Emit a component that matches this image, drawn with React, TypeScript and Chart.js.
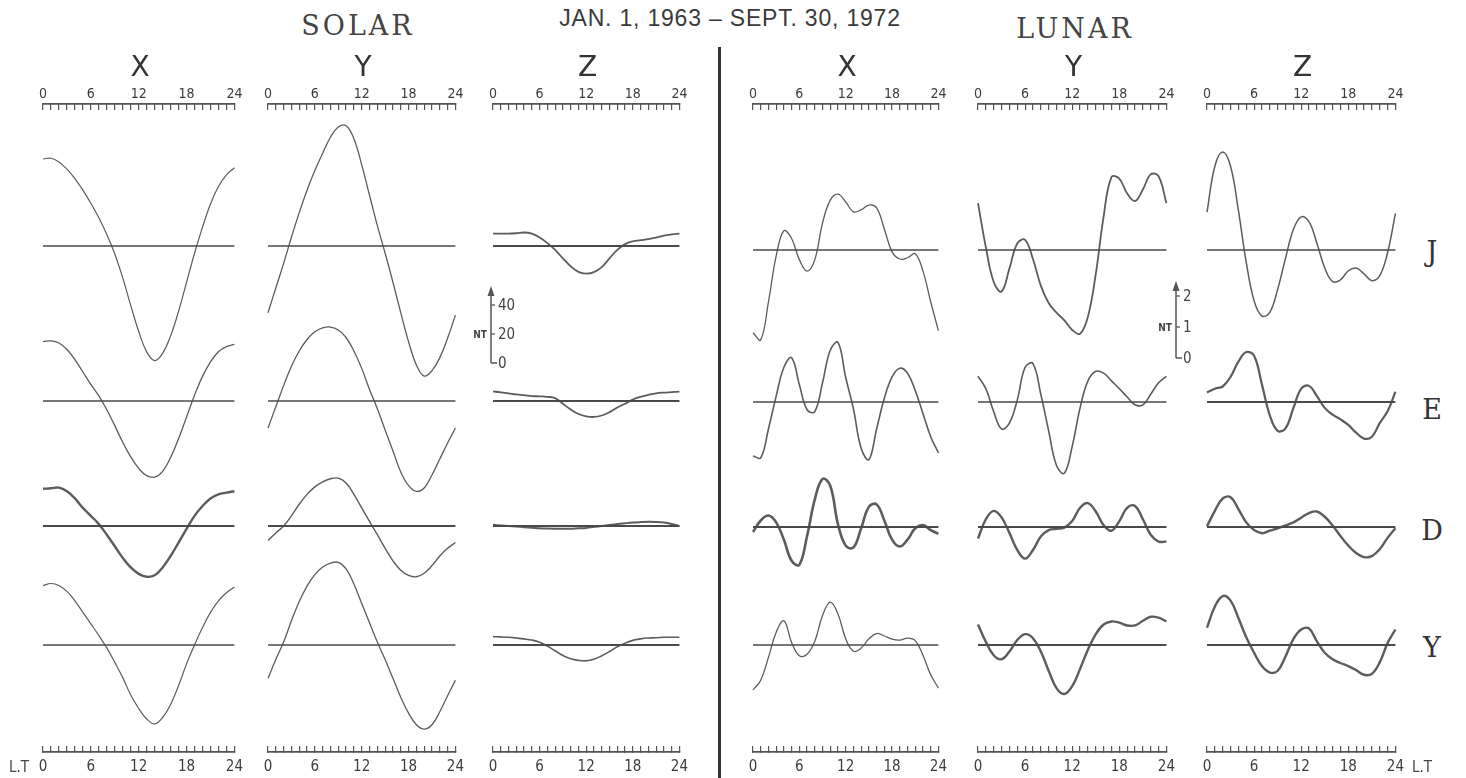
import React, { useEffect, useRef } from 'react';
import { Chart, registerables } from 'chart.js';

Chart.register(...registerables);

// ---------------- data (local time hours, values in nT) ----------------
const HOURS = [0, 1, 2, 3, 4, 5, 6, 7, 8, 9, 10, 11, 12, 13, 14, 15, 16, 17, 18, 19, 20, 21, 22, 23, 24];
const MAJOR_TICKS = [0, 6, 12, 18, 24];
const ROW_NAMES = ['J', 'E', 'D', 'Y'];
const COMPONENT_NAMES = ['X', 'Y', 'Z'];
const SOLAR_SCALE_TICKS = [0, 20, 40];
const LUNAR_SCALE_TICKS = [0, 1, 2];

// Solar daily variation (nT)
const SOLAR_X_J = [60, 60.5, 58, 53, 46.5, 38.5, 29.5, 19.5, 8, -5.5, -22, -41, -59, -73, -79, -74, -62, -45, -25, -5, 13, 29, 41, 49, 54];
const SOLAR_X_E = [41, 41.4, 40, 35.5, 28.5, 20, 11.5, 3.5, -6, -17, -28.5, -38.5, -46.5, -51.5, -52.5, -48.5, -39, -26, -11, 4, 17, 27, 34, 37.5, 39];
const SOLAR_X_D = [25.7, 26, 26.5, 24, 19, 12.5, 7, 1.3, -6, -14, -22, -28.6, -33, -35, -34, -28.6, -20.7, -11.4, -2, 7, 13.8, 19, 21.8, 23, 24];
const SOLAR_X_Y = [41, 42.4, 41, 37, 30.5, 22.5, 14.6, 6.6, -2, -12, -22.5, -34.5, -43.8, -51, -54.4, -50, -41, -28, -13, 0, 12, 22.5, 30.5, 36, 40];

const SOLAR_Y_J = [-46, -29, -12, 6, 23, 38.5, 52, 64, 75, 82, 83, 74, 56, 35, 14, -5, -25, -46, -66, -82, -89.7, -86, -77, -63.5, -47.7];
const SOLAR_Y_E = [-18.6, -4, 10.6, 24, 34.5, 42.4, 47.7, 50.4, 51, 49, 43.8, 34.5, 22.5, 8, -5.3, -20, -34.5, -49, -58.4, -62.3, -60, -51, -40, -29, -18.6];
const SOLAR_Y_D = [-10, -4.8, 0, 7, 15, 21.8, 27, 30.5, 32.6, 33, 29.7, 21.8, 12.5, 3.2, -6, -15.4, -24, -30.5, -34, -35, -32.6, -27.3, -20.7, -15.4, -11.4];
const SOLAR_Y_Y = [-23, -10, 2, 16.7, 30, 40.6, 48.5, 53.8, 56.5, 57, 52.5, 42, 28.6, 15.4, 2, -10, -23, -36, -47, -55, -58, -55, -46, -35, -24.4];

const SOLAR_Z_J = [8.5, 8.5, 8.5, 8.8, 9.3, 8.5, 5.8, 2, -2.7, -8.5, -14, -17.8, -19, -18, -14.6, -8.5, -2.7, 1.3, 3.2, 4, 4.8, 5.8, 7.2, 8, 8.5];
const SOLAR_Z_E = [6.6, 6, 5.3, 4.5, 4, 3.4, 3.2, 2.9, 2, -1.9, -5.8, -9, -10.6, -11, -10, -7.7, -4.5, -1.9, 1, 2.9, 4.2, 5.3, 5.8, 6.1, 6.4];
const SOLAR_Z_D = [0.8, 0.4, 0, -0.4, -0.8, -1.2, -1.6, -1.8, -1.9, -1.9, -1.9, -1.6, -1.3, -0.6, 0, 0.7, 1.3, 1.9, 2.4, 2.7, 2.9, 2.8, 2.4, 1.4, 0];
const SOLAR_Z_Y = [5.8, 5.6, 5.3, 4.8, 4.2, 3.4, 1.9, -0.8, -4, -7.2, -9.5, -10.6, -10.9, -9.8, -7.4, -4.5, -1.3, 1.3, 3.2, 4.2, 4.8, 5, 5.3, 5.3, 5.3];

// Lunar daily variation (nT)
const LUNAR_X_J = [-2.67, -2.9, -1.67, -0.19, 0.62, 0.37, -0.31, -0.68, -0.31, 0.87, 1.61, 1.8, 1.55, 1.23, 1.3, 1.45, 1.36, 0.68, -0.06, -0.29, -0.25, -0.12, -0.68, -1.67, -2.6];
const LUNAR_X_E = [-1.74, -1.8, -0.87, 0.19, 1.12, 1.43, 0.56, -0.25, -0.31, 0.62, 1.67, 1.92, 0.79, -0.22, -1.49, -1.86, -0.87, 0.12, 0.81, 1.09, 0.93, 0.37, -0.37, -1.12, -1.64];
const LUNAR_X_D = [-0.16, 0.21, 0.37, 0.15, -0.41, -1.09, -1.22, -0.29, 0.89, 1.55, 1.33, 0.09, -0.6, -0.66, -0.04, 0.65, 0.73, 0.21, -0.41, -0.63, -0.41, -0.04, 0.06, -0.1, -0.22];
const LUNAR_X_Y = [-1.45, -1.14, -0.4, 0.41, 0.78, 0.08, -0.35, -0.3, 0.12, 0.95, 1.38, 1.0, 0.2, -0.2, -0.1, 0.2, 0.37, 0.29, 0.19, 0.16, 0.22, 0.14, -0.33, -0.96, -1.39];

const LUNAR_Y_J = [1.51, 0.09, -1.03, -1.34, -0.6, 0.21, 0.33, -0.29, -1.15, -1.71, -2.02, -2.27, -2.58, -2.7, -2.15, -0.78, 1.08, 2.35, 2.3, 1.82, 1.58, 1.95, 2.44, 2.38, 1.51];
const LUNAR_Y_E = [0.83, 0.43, -0.31, -0.87, -0.68, 0.06, 1.12, 1.24, 0.25, -0.93, -2.05, -2.3, -1.43, -0.19, 0.68, 0.99, 0.93, 0.68, 0.43, 0.16, -0.09, -0.09, 0.25, 0.62, 0.83];
const LUNAR_Y_D = [-0.37, 0.25, 0.52, 0.31, -0.19, -0.74, -1.02, -0.74, -0.31, -0.1, -0.06, -0.02, 0.19, 0.62, 0.77, 0.5, 0.06, -0.12, 0.19, 0.62, 0.68, 0.25, -0.25, -0.47, -0.47];
const LUNAR_Y_Y = [0.66, 0.1, -0.33, -0.46, -0.21, 0.16, 0.35, 0.22, -0.21, -0.83, -1.39, -1.58, -1.33, -0.77, -0.15, 0.35, 0.66, 0.76, 0.72, 0.63, 0.63, 0.78, 0.91, 0.88, 0.76];

const LUNAR_Z_J = [1.22, 2.7, 3.16, 2.7, 1.28, -0.4, -1.64, -2.13, -2.01, -1.27, -0.27, 0.66, 1.07, 0.91, 0.22, -0.58, -1.02, -0.96, -0.67, -0.58, -0.77, -0.99, -0.83, -0.09, 1.18];
const LUNAR_Z_E = [0.31, 0.43, 0.5, 0.81, 1.3, 1.61, 1.49, 0.56, -0.43, -0.93, -0.85, -0.2, 0.43, 0.52, 0.19, -0.19, -0.41, -0.56, -0.74, -0.99, -1.18, -1.12, -0.68, -0.3, 0.33];
const LUNAR_Z_D = [0.02, 0.52, 0.92, 0.96, 0.58, 0.15, -0.1, -0.2, -0.12, -0.04, 0.05, 0.15, 0.3, 0.45, 0.5, 0.33, 0.05, -0.29, -0.6, -0.84, -0.97, -0.94, -0.72, -0.35, -0.04];
const LUNAR_Z_Y = [0.56, 1.24, 1.58, 1.43, 0.87, 0.25, -0.25, -0.68, -0.89, -0.83, -0.37, 0.19, 0.5, 0.53, 0.12, -0.25, -0.46, -0.58, -0.68, -0.81, -0.96, -0.93, -0.56, 0.06, 0.5];

// ---------------- layout & style ----------------
const FRAME_W = 1466;
const FRAME_H = 778;
const CANVAS_TOP = 78;
const CANVAS_H = 700;
const AXIS_H = 26;
const PAD_X = 18;
const AREA_TOP = CANVAS_TOP + AXIS_H;
const AREA_BOTTOM = CANVAS_TOP + CANVAS_H - AXIS_H;

const INK = '#4a4a4a';
const CURVE = '#5c5c5c';
const TICK_FONT = "'DejaVu Sans Condensed', 'Liberation Sans Narrow', 'Liberation Sans', sans-serif";
const SANS = "'Liberation Sans', 'DejaVu Sans', sans-serif";

const SOLAR_PPU = 1.45; // px per nT
const LUNAR_PPU = 31; // px per nT
const SOLAR_ZEROS = [246, 401, 526, 645];
const LUNAR_ZEROS = [250, 402, 527, 645];

type Column = {
  name: string;
  left: number;
  right: number;
  series: number[][];
  ppu: number;
  zeros: number[];
  widths: number[];
  zeroWidths: number[];
};

const COLUMNS: Column[] = [
  { name: COMPONENT_NAMES[0], left: 43, right: 237, series: [SOLAR_X_J, SOLAR_X_E, SOLAR_X_D, SOLAR_X_Y], ppu: SOLAR_PPU, zeros: SOLAR_ZEROS, widths: [1.2, 1.3, 2.4, 1.2], zeroWidths: [1.6, 1.6, 2.2, 1.6] },
  { name: COMPONENT_NAMES[1], left: 268, right: 458, series: [SOLAR_Y_J, SOLAR_Y_E, SOLAR_Y_D, SOLAR_Y_Y], ppu: SOLAR_PPU, zeros: SOLAR_ZEROS, widths: [1.3, 1.3, 1.4, 1.3], zeroWidths: [1.6, 1.6, 1.8, 1.6] },
  { name: COMPONENT_NAMES[2], left: 493, right: 682, series: [SOLAR_Z_J, SOLAR_Z_E, SOLAR_Z_D, SOLAR_Z_Y], ppu: SOLAR_PPU, zeros: SOLAR_ZEROS, widths: [1.8, 1.8, 2, 1.6], zeroWidths: [1.8, 1.8, 2, 1.8] },
  { name: COMPONENT_NAMES[0], left: 753, right: 941, series: [LUNAR_X_J, LUNAR_X_E, LUNAR_X_D, LUNAR_X_Y], ppu: LUNAR_PPU, zeros: LUNAR_ZEROS, widths: [1.3, 1.6, 2.6, 1.3], zeroWidths: [1.6, 1.6, 2.2, 1.6] },
  { name: COMPONENT_NAMES[1], left: 978, right: 1169, series: [LUNAR_Y_J, LUNAR_Y_E, LUNAR_Y_D, LUNAR_Y_Y], ppu: LUNAR_PPU, zeros: LUNAR_ZEROS, widths: [1.8, 1.6, 2.4, 2.4], zeroWidths: [1.6, 1.6, 2.2, 2] },
  { name: COMPONENT_NAMES[2], left: 1207, right: 1398, series: [LUNAR_Z_J, LUNAR_Z_E, LUNAR_Z_D, LUNAR_Z_Y], ppu: LUNAR_PPU, zeros: LUNAR_ZEROS, widths: [1.5, 2.2, 2.4, 2.4], zeroWidths: [1.6, 2, 2.2, 2] },
];

function rulerAxis(position: 'top' | 'bottom', padding: number, size: number) {
  return {
    type: 'linear',
    position,
    min: 0,
    max: 24,
    afterFit: (s: any) => {
      s.height = AXIS_H;
    },
    ticks: {
      stepSize: 1,
      autoSkip: false,
      maxTicksLimit: 100,
      maxRotation: 0,
      minRotation: 0,
      padding,
      color: '#3c3c3c',
      font: { family: TICK_FONT, size },
      callback: (v: any) => (MAJOR_TICKS.includes(Number(v)) ? String(v) : ''),
    },
    grid: {
      display: true,
      drawOnChartArea: false,
      drawTicks: true,
      tickLength: -6,
      color: '#555',
      lineWidth: 1.2,
    },
    border: { display: true, color: '#555', width: 1.8 },
  };
}

function Panel({ col }: { col: Column }) {
  const ref = useRef<HTMLCanvasElement | null>(null);
  useEffect(() => {
    const canvas = ref.current;
    if (!canvas) return;
    const datasets: any[] = [];
    const scales: any = {
      x: rulerAxis('top', 7, 14),
      xb: rulerAxis('bottom', 12, 15),
    };
    col.series.forEach((vals, r) => {
      const id = 'y' + r;
      const zero = col.zeros[r];
      scales[id] = {
        type: 'linear',
        display: false,
        min: -(AREA_BOTTOM - zero) / col.ppu,
        max: (zero - AREA_TOP) / col.ppu,
      };
      datasets.push({
        label: ROW_NAMES[r] + ' baseline',
        data: [
          { x: HOURS[0], y: 0 },
          { x: HOURS[HOURS.length - 1], y: 0 },
        ],
        xAxisID: 'x',
        yAxisID: id,
        borderColor: INK,
        borderWidth: col.zeroWidths[r],
        pointRadius: 0,
        tension: 0,
        fill: false,
        clip: false,
      });
      datasets.push({
        label: ROW_NAMES[r],
        data: HOURS.map((h, i) => ({ x: h, y: vals[i] })),
        xAxisID: 'x',
        yAxisID: id,
        borderColor: CURVE,
        borderWidth: col.widths[r],
        pointRadius: 0,
        tension: 0.4,
        fill: false,
        clip: false,
      });
    });
    const chart = new Chart(canvas, {
      type: 'line',
      data: { datasets },
      options: {
        animation: false,
        responsive: false,
        devicePixelRatio: 1,
        events: [],
        layout: { padding: { left: PAD_X, right: PAD_X, top: 0, bottom: 0 } },
        plugins: { legend: { display: false }, tooltip: { enabled: false }, title: { display: false } },
        scales,
      } as any,
    });
    return () => chart.destroy();
  }, [col]);
  const w = col.right - col.left + 2 * PAD_X;
  return (
    <canvas
      ref={ref}
      width={w}
      height={CANVAS_H}
      style={{ position: 'absolute', left: col.left - PAD_X, top: CANVAS_TOP, width: w, height: CANVAS_H }}
    />
  );
}

const abs = (x: number, y: number, extra: React.CSSProperties = {}): React.CSSProperties => ({
  position: 'absolute',
  left: x,
  top: y,
  transform: 'translate(-50%, -50%)',
  whiteSpace: 'nowrap',
  lineHeight: 1,
  color: INK,
  ...extra,
});

function ScaleBar({ x, zero, ppu, ticks, arrowTop }: { x: number; zero: number; ppu: number; ticks: number[]; arrowTop: number }) {
  const top = zero - ticks[ticks.length - 1] * ppu;
  return (
    <g>
      <line x1={x} y1={zero} x2={x} y2={arrowTop + 8} stroke="#555" strokeWidth={1.5} />
      <polygon points={`${x},${arrowTop} ${x - 3.5},${arrowTop + 10} ${x + 3.5},${arrowTop + 10}`} fill="#555" />
      <line x1={x} y1={zero} x2={x + 6} y2={zero} stroke="#555" strokeWidth={1.5} />
      {ticks.slice(1).map((t) => (
        <line key={t} x1={x} y1={zero - t * ppu} x2={x + 4} y2={zero - t * ppu} stroke="#555" strokeWidth={1.3} />
      ))}
      {ticks.map((t) => (
        <text
          key={'l' + t}
          x={x + 7}
          y={zero - t * ppu}
          dominantBaseline="central"
          fontFamily={TICK_FONT}
          fontSize={15}
          fill="#444"
        >
          {String(t)}
        </text>
      ))}
      <text
        x={x - 4}
        y={(zero + top) / 2}
        textAnchor="end"
        dominantBaseline="central"
        fontFamily={TICK_FONT}
        fontSize={10}
        fontWeight="bold"
        fill="#444"
      >
        NT
      </text>
    </g>
  );
}

export default function App() {
  const rowLabelY = [251, 409, 530, 647];
  return (
    <div style={{ position: 'fixed', left: 0, top: 0, width: FRAME_W, height: FRAME_H, background: '#fff', overflow: 'hidden' }}>
      {COLUMNS.map((c, i) => (
        <Panel key={i} col={c} />
      ))}
      {COLUMNS.map((c, i) => (
        <div key={'h' + i} style={abs((c.left + c.right) / 2, 67, { fontFamily: "'DejaVu Sans', sans-serif", fontSize: 28, color: '#333' })}>
          {c.name}
        </div>
      ))}
      <div style={abs(358, 25, { fontFamily: "'DejaVu Serif', serif", fontSize: 27, letterSpacing: 3, color: '#444' })}>SOLAR</div>
      <div style={abs(1075, 28, { fontFamily: "'DejaVu Serif', serif", fontSize: 27, letterSpacing: 3, color: '#444' })}>LUNAR</div>
      <div style={abs(730, 18, { fontFamily: SANS, fontSize: 23, letterSpacing: 0.8, color: '#3a3a3a' })}>JAN. 1, 1963 – SEPT. 30, 1972</div>
      {ROW_NAMES.map((r, i) => (
        <div key={r} style={abs(1432, rowLabelY[i], { fontFamily: "'DejaVu Serif', serif", fontSize: 27, color: '#333' })}>
          {r}
        </div>
      ))}
      <div style={abs(19, 767, { fontFamily: TICK_FONT, fontSize: 15, color: '#444' })}>L.T</div>
      <div style={abs(1422, 767, { fontFamily: TICK_FONT, fontSize: 15, color: '#444' })}>L.T</div>
      <div style={{ position: 'absolute', left: 718, top: 47, width: 3, height: FRAME_H - 47, background: '#333' }} />
      <svg width={FRAME_W} height={FRAME_H} style={{ position: 'absolute', left: 0, top: 0, pointerEvents: 'none' }}>
        <ScaleBar x={491} zero={363} ppu={SOLAR_PPU} ticks={SOLAR_SCALE_TICKS} arrowTop={286} />
        <ScaleBar x={1176} zero={358} ppu={LUNAR_PPU} ticks={LUNAR_SCALE_TICKS} arrowTop={281} />
      </svg>
    </div>
  );
}
